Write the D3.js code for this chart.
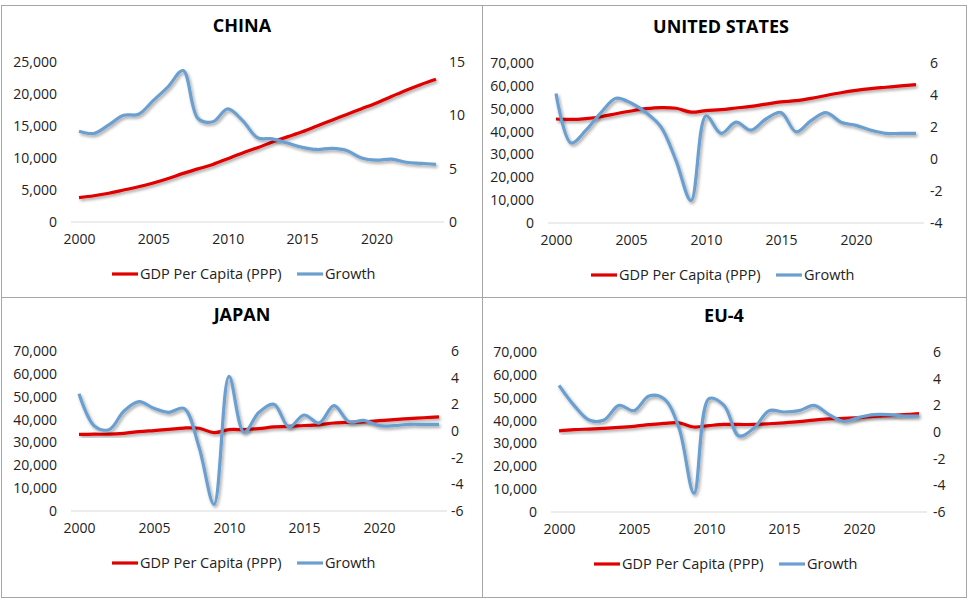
<!DOCTYPE html>
<html><head><meta charset="utf-8">
<script src="https://cdn.jsdelivr.net/npm/d3@7"></script>
<style>body{margin:0;background:#fff}text{font-family:"Open Sans","Noto Sans",sans-serif}</style>
</head><body><svg id="c" width="972" height="601"></svg>
<script>
const years = d3.range(2000, 2025);
const titles = ["CHINA", "UNITED STATES", "JAPAN", "EU-4"];
const chinaGdp = [3800,4100,4500,5000,5500,6100,6800,7600,8300,9000,9900,10800,11600,12500,13300,14100,15000,15900,16800,17700,18600,19600,20600,21500,22300];
const chinaGrowth = [8.5,8.3,9.1,10,10.1,11.4,12.7,14.2,9.7,9.4,10.6,9.5,7.9,7.8,7.4,7.0,6.8,6.9,6.7,6.0,5.8,5.9,5.6,5.5,5.4];
const usGdp = [45500,45300,45700,46500,47800,49000,50000,50500,50200,48500,49200,49600,50300,51000,52000,53000,53500,54500,55800,57000,58000,58800,59400,60000,60500];
const usGrowth = [4.1,1.0,1.8,2.9,3.8,3.5,2.9,2.0,-0.1,-2.6,2.7,1.6,2.3,1.8,2.5,2.9,1.7,2.4,2.9,2.3,2.1,1.8,1.6,1.6,1.6];
const japanGdp = [33500,33600,33600,34000,34700,35200,35700,36300,36200,34300,35600,35600,36000,36800,37000,37400,37700,38500,38800,39000,39500,40000,40400,40800,41200];
const japanGrowth = [2.8,0.4,0.1,1.5,2.2,1.7,1.4,1.7,-1.2,-5.5,4.1,-0.1,1.4,2.0,0.3,1.2,0.6,1.9,0.7,0.8,0.4,0.4,0.5,0.5,0.5];
const euGdp = [35500,36000,36300,36600,37000,37500,38200,38800,39000,37200,37800,38300,38300,38300,38600,39000,39500,40200,40700,41000,41300,41800,42200,42600,43000];
const euGrowth = [3.5,2.0,0.9,0.9,2.0,1.6,2.7,2.5,0.3,-4.6,2.5,2.0,-0.3,0.3,1.6,1.5,1.6,2.0,1.3,0.8,1.1,1.3,1.3,1.2,1.2];
const leftTicks = [[0,5000,10000,15000,20000,25000],[0,10000,20000,30000,40000,50000,60000,70000],[0,10000,20000,30000,40000,50000,60000,70000],[0,10000,20000,30000,40000,50000,60000,70000]];
const rightTicks = [[0,5,10,15],[-4,-2,0,2,4,6],[-6,-4,-2,0,2,4,6],[-6,-4,-2,0,2,4,6]];
const xTicks = [2000,2005,2010,2015,2020];
const gdps = [chinaGdp, usGdp, japanGdp, euGdp];
const growths = [chinaGrowth, usGrowth, japanGrowth, euGrowth];
const legendLabels = ["GDP Per Capita (PPP)", "Growth"];

const svg = d3.select("#c");
const defs = svg.append("defs");
const f = defs.append("filter").attr("id","sh").attr("x","-10%").attr("y","-10%").attr("width","120%").attr("height","130%");
f.append("feDropShadow").attr("dx",1.5).attr("dy",2).attr("stdDeviation",1.5).attr("flood-color","#000").attr("flood-opacity",0.35);

const P = [
  {px:0, py:0, x0:79, x1:436, yb:222, yt:62, rx:462, ty:32, ly:274, cx:242},
  {px:486, py:0, x0:556, x1:916, yb:223, yt:63, rx:943, ty:33, ly:275, cx:721},
  {px:0, py:295, x0:79, x1:439, yb:511, yt:351, rx:464, ty:321, ly:563, cx:242},
  {px:486, py:295, x0:559, x1:919, yb:512, yt:352, rx:946, ty:322, ly:564, cx:724}
];
svg.append("rect").attr("x",1.5).attr("y",5.5).attr("width",965).attr("height",592).attr("fill","none").attr("stroke","#a6a6a6");
svg.append("line").attr("x1",482.5).attr("x2",482.5).attr("y1",5).attr("y2",597).attr("stroke","#a6a6a6");
svg.append("line").attr("x1",1).attr("x2",967).attr("y1",297.5).attr("y2",297.5).attr("stroke","#a6a6a6");

P.forEach((p,i)=>{
  const g = svg.append("g");
  const lt = leftTicks[i], rt = rightTicks[i];
  const x = d3.scaleLinear().domain([2000,2024]).range([p.x0,p.x1]);
  const yl = d3.scaleLinear().domain([lt[0], lt[lt.length-1]]).range([p.yb,p.yt]);
  const yr = d3.scaleLinear().domain([rt[0], rt[rt.length-1]]).range([p.yb,p.yt]);
  g.append("text").attr("x",p.cx).attr("y",p.ty).attr("text-anchor","middle").attr("font-size",18).attr("font-weight","bold").attr("fill","#000").text(titles[i]);
  g.append("line").attr("x1",x.range()[0]-8).attr("x2",x.range()[1]+8).attr("y1",p.yb).attr("y2",p.yb).attr("stroke","#d9d9d9");
  const ax = d3.axisBottom(x).tickValues(xTicks).tickFormat(d3.format("d")).tickSize(0).tickPadding(12);
  const ga = g.append("g").attr("transform",`translate(0,${p.yb})`).call(ax);
  ga.select(".domain").remove();
  const al = d3.axisLeft(yl).tickValues(lt).tickFormat(d3.format(",")).tickSize(0).tickPadding(0);
  const gl = g.append("g").attr("transform",`translate(${p.x0-22},0)`).call(al);
  gl.select(".domain").remove();
  const ar = d3.axisRight(yr).tickValues(rt).tickFormat(d=>String(d)).tickSize(0).tickPadding(0);
  const gr = g.append("g").attr("transform",`translate(${p.rx-13},0)`).call(ar);
  gr.select(".domain").remove();
  g.selectAll(".tick text").attr("font-size",14).attr("fill","#222").attr("font-family","'Open Sans','Noto Sans',sans-serif");
  const lg = d3.line().x((d,j)=>x(years[j])).y(d=>yl(d)).curve(d3.curveCatmullRom);
  const lr = d3.line().x((d,j)=>x(years[j])).y(d=>yr(d)).curve(d3.curveCatmullRom);
  g.append("path").attr("d",lg(gdps[i])).attr("fill","none").attr("stroke","#e00000").attr("stroke-width",3.2).attr("filter","url(#sh)");
  g.append("path").attr("d",lr(growths[i])).attr("fill","none").attr("stroke","#6a9fd0").attr("stroke-width",3.2).attr("filter","url(#sh)");
  const L = g.append("g");
  const lx = p.cx - 130;
  L.append("line").attr("x1",lx).attr("x2",lx+26).attr("y1",p.ly).attr("y2",p.ly).attr("stroke","#e00000").attr("stroke-width",3.2);
  L.append("text").attr("x",lx+28).attr("y",p.ly+5).attr("font-size",14.5).attr("fill","#222").text(legendLabels[0]);
  L.append("line").attr("x1",lx+185).attr("x2",lx+211).attr("y1",p.ly).attr("y2",p.ly).attr("stroke","#6a9fd0").attr("stroke-width",3.2);
  L.append("text").attr("x",lx+213).attr("y",p.ly+5).attr("font-size",14.5).attr("fill","#222").text(legendLabels[1]);
});
</script></body></html>
